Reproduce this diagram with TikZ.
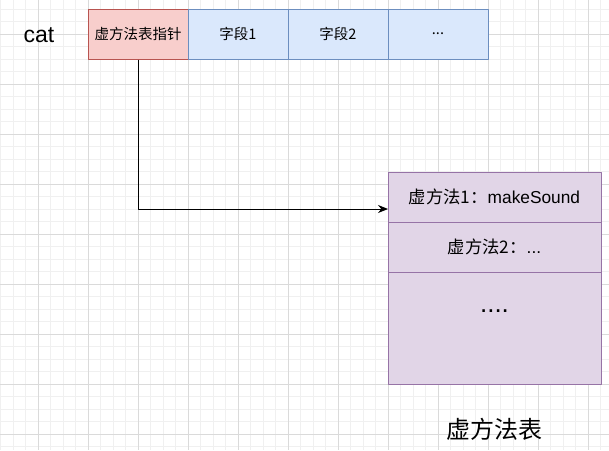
\documentclass[tikz,border=0pt]{standalone}
\usepackage{fontspec}
\setmainfont{Liberation Sans}
\newfontfamily\cjk{Noto Sans CJK SC}
\usetikzlibrary{arrows.meta}
\definecolor{pinkfill}{HTML}{F8CECC}
\definecolor{pinkline}{HTML}{B85450}
\definecolor{bluefill}{HTML}{DAE8FC}
\definecolor{blueline}{HTML}{6C8EBF}
\definecolor{purplefill}{HTML}{E1D5E7}
\definecolor{purpleline}{HTML}{9673A6}
\definecolor{gridminor}{HTML}{F0F0F0}
\definecolor{gridmajor}{HTML}{DADADA}
\begin{document}
\begin{tikzpicture}[x=1pt,y=-1pt,>={Stealth[length=10pt,width=8pt]},line join=round,
  cell/.style={draw,line width=1pt,minimum width=100pt,minimum height=50pt,inner sep=0pt,font=\cjk\fontsize{14.5}{17}\selectfont},
  ptrcell/.style={cell,fill=pinkfill,draw=pinkline},
  fieldcell/.style={cell,fill=bluefill,draw=blueline},
  vtrow/.style={draw=purpleline,fill=purplefill,line width=1pt,minimum width=213pt,minimum height=50pt,inner sep=0pt,font=\fontsize{17.3}{20}\selectfont}]
\useasboundingbox[fill=white] (0,0) rectangle (609,450);
\foreach \i in {0,...,49} \draw[gridminor,line width=1pt] (0.5+12.5*\i,0)--(0.5+12.5*\i,450);
\foreach \i in {0,...,37} \draw[gridminor,line width=1pt] (0,-3.5+12.5*\i)--(609,-3.5+12.5*\i);
\foreach \i in {0,...,11} \draw[gridmajor,line width=1pt] (38+50*\i,0)--(38+50*\i,450);
\foreach \i in {0,...,8} \draw[gridmajor,line width=1pt] (0,34+50*\i)--(609,34+50*\i);
\node[font=\fontsize{23}{26}\selectfont] (cat) at (39,35) {cat};
\node[ptrcell] (ptr) at (138,34) {虚方法表指针};
\node[fieldcell] (f1) at (238,34) {字段1};
\node[fieldcell] (f2) at (338,34) {字段2};
\node[fieldcell] (f3) at (438,34) {...};
\node[vtrow] (vt1) at (494.5,197) {{\cjk 虚方法1：}makeSound};
\node[vtrow] (vt2) at (494.5,247) {{\cjk 虚方法2：}...};
\node[vtrow,minimum height=112pt] (vt3) at (494.5,328) {};
\node[anchor=base,font=\fontsize{26}{28}\selectfont] (more) at (494.5,312) {....};
\node[font=\cjk\fontsize{24}{28}\selectfont] (title) at (494.5,429) {虚方法表};
\coordinate (tgt) at (388,209);
\draw[->,line width=1pt] (ptr.south) |- (tgt);
\end{tikzpicture}
\end{document}
